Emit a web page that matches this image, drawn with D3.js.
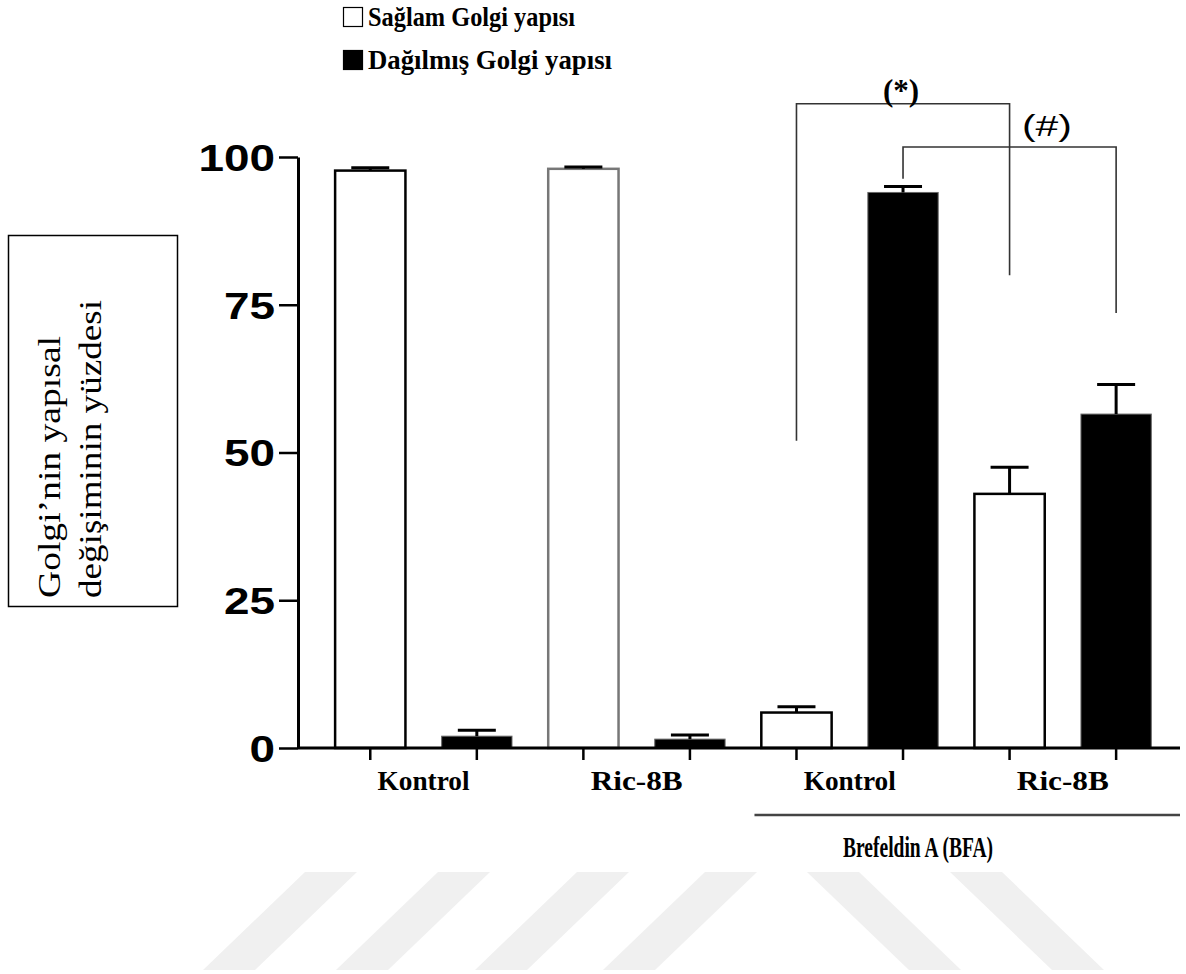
<!DOCTYPE html>
<html>
<head>
<meta charset="utf-8">
<script src="https://cdn.jsdelivr.net/npm/d3@7"></script>
<style>
  html, body { margin: 0; padding: 0; background: #fff; }
  svg { display: block; }
</style>
</head>
<body>
<script>
// ---------------- data ----------------
const groups = ["Kontrol", "Ric-8B", "Kontrol BFA", "Ric-8B BFA"];
const groupLabels = ["Kontrol", "Ric-8B", "Kontrol", "Ric-8B"];
const seriesKeys = ["saglam", "dagilmis"];
const seriesNames = ["Sağlam Golgi yapısı", "Dağılmış Golgi yapısı"];
const saglamValues = [97.7, 98.0, 6.0, 43.0];
const saglamErrors = [0.5, 0.3, 1.0, 4.5];
const dagilmisValues = [2.0, 1.5, 94.0, 56.5];
const dagilmisErrors = [1.0, 0.7, 1.0, 5.0];
const yTicks = [0, 25, 50, 75, 100];
const yTitleLines = ["Golgi’nin yapısal", "değişiminin yüzdesi"];
const bfaLabel = "Brefeldin A (BFA)";
// significance brackets: [group, series] pairs and heights in data units
const bracketLabels = ["(*)", "(#)"];
const bracketFrom = [["Kontrol BFA", "saglam"], ["Kontrol BFA", "dagilmis"]];
const bracketTo = [["Ric-8B BFA", "saglam"], ["Ric-8B BFA", "dagilmis"]];
const bracketTop = [109, 101.7];
const bracketFromEnd = [52, 96.3];
const bracketToEnd = [80, 73.6];
// watermark stripes (top-left x of each stripe; direction)
const stripeTopX = [305, 438, 577, 705, 807, 950];
const stripeDir = [-1, -1, -1, -1, 1, 1];

// ---------------- layout ----------------
const W = 1186, H = 974;
const svg = d3.select("body").append("svg").attr("width", W).attr("height", H);

const y = d3.scaleLinear().domain([0, 100]).range([748, 157]);
const axisX = 298;

const barKeys = [];
groups.forEach(g => seriesKeys.forEach(s => barKeys.push(g + "|" + s)));
const x = d3.scaleBand().domain(barKeys).range([317, 1169.4]).paddingInner(0.34).paddingOuter(0.17);
const cx = (g, s) => x(g + "|" + s) + x.bandwidth() / 2;

const bars = [];
groups.forEach((g, i) => {
  bars.push({ g, s: "saglam", v: saglamValues[i], e: saglamErrors[i], i });
  bars.push({ g, s: "dagilmis", v: dagilmisValues[i], e: dagilmisErrors[i], i });
});

// ---------------- watermark ----------------
const wmTop = 872, wmBot = 970, wmW = 52, wmShift = 102;
svg.append("g").selectAll("path").data(stripeTopX).join("path")
  .attr("d", (d, i) => {
    const dx = stripeDir[i] * wmShift;
    return `M${d},${wmTop}L${d + wmW},${wmTop}L${d + wmW + dx},${wmBot}L${d + dx},${wmBot}Z`;
  })
  .attr("fill", "#f0f0f0");

// ---------------- bars ----------------
svg.append("g").selectAll("rect").data(bars).join("rect")
  .attr("x", d => x(d.g + "|" + d.s))
  .attr("width", x.bandwidth())
  .attr("y", d => y(d.v))
  .attr("height", d => y(0) - y(d.v))
  .attr("fill", d => d.s === "saglam" ? "#fff" : "#000")
  .attr("stroke", d => d.s === "saglam" ? (d.i === 1 ? "#777" : "#000") : "#666")
  .attr("stroke-width", d => d.s === "saglam" ? 2.5 : 1);

// error bars (upper only)
const eb = svg.append("g").attr("stroke", "#000").attr("stroke-width", 3);
eb.selectAll("line.v").data(bars).join("line").attr("class", "v")
  .attr("x1", d => cx(d.g, d.s)).attr("x2", d => cx(d.g, d.s))
  .attr("y1", d => y(d.v)).attr("y2", d => y(d.v + d.e));
eb.selectAll("line.c").data(bars).join("line").attr("class", "c")
  .attr("x1", d => cx(d.g, d.s) - 19).attr("x2", d => cx(d.g, d.s) + 19)
  .attr("y1", d => y(d.v + d.e)).attr("y2", d => y(d.v + d.e));

// ---------------- axes ----------------
const yAxis = svg.append("g").attr("transform", `translate(${axisX},0)`)
  .call(d3.axisLeft(y).tickValues(yTicks).tickSize(19).tickSizeOuter(0).tickPadding(4));
yAxis.select(".domain").attr("stroke-width", 3);
yAxis.selectAll(".tick line").attr("stroke-width", 2.5);
yAxis.selectAll(".tick text")
  .attr("font-family", "'Liberation Sans', Arial, sans-serif")
  .attr("font-weight", "bold")
  .attr("font-size", 37)
  .attr("dy", "0.36em")
  .attr("fill", "#000")
  .attr("textLength", d => String(d).length * 25.5)
  .attr("lengthAdjust", "spacingAndGlyphs");

const xAxis = svg.append("g").attr("transform", `translate(0,${y(0)})`)
  .call(d3.axisBottom(x).tickSize(12).tickSizeOuter(0).tickFormat(""));
xAxis.select(".domain").remove();
xAxis.selectAll(".tick line").attr("stroke-width", 2.5);
svg.append("line")
  .attr("x1", axisX).attr("x2", W - 6)
  .attr("y1", y(0)).attr("y2", y(0))
  .attr("stroke", "#000").attr("stroke-width", 3);

// group labels
svg.append("g").selectAll("text").data(groups).join("text")
  .attr("x", g => (cx(g, "saglam") + cx(g, "dagilmis")) / 2)
  .attr("y", 790)
  .attr("text-anchor", "middle")
  .attr("font-family", "'Liberation Serif', 'Times New Roman', serif")
  .attr("font-weight", "bold")
  .attr("font-size", 28)
  .attr("textLength", 92).attr("lengthAdjust", "spacingAndGlyphs")
  .text((g, i) => groupLabels[i]);

// BFA line and label
const bfaX1 = cx("Kontrol BFA", "saglam") - 42;
svg.append("line")
  .attr("x1", bfaX1).attr("x2", W - 6)
  .attr("y1", 815).attr("y2", 815)
  .attr("stroke", "#444").attr("stroke-width", 2.5);
svg.append("text")
  .attr("x", 918).attr("y", 857)
  .attr("text-anchor", "middle")
  .attr("font-family", "'Liberation Serif', 'Times New Roman', serif")
  .attr("font-weight", "bold")
  .attr("font-size", 29)
  .attr("textLength", 150).attr("lengthAdjust", "spacingAndGlyphs")
  .text(bfaLabel);

// ---------------- significance brackets ----------------
const br = svg.append("g").attr("fill", "none").attr("stroke", "#333").attr("stroke-width", 1.6);
bracketLabels.forEach((lab, i) => {
  const x1 = cx(bracketFrom[i][0], bracketFrom[i][1]);
  const x2 = cx(bracketTo[i][0], bracketTo[i][1]);
  br.append("path").attr("d",
    `M${x1},${y(bracketFromEnd[i])}V${y(bracketTop[i])}H${x2}V${y(bracketToEnd[i])}`);
});
svg.append("text")
  .attr("x", 901)
  .attr("y", y(bracketTop[0]) - 3)
  .attr("text-anchor", "middle")
  .attr("font-family", "'Liberation Serif', 'Times New Roman', serif")
  .attr("font-weight", "bold")
  .attr("font-size", 31)
  .text(bracketLabels[0]);
svg.append("text")
  .attr("x", 1047)
  .attr("y", y(bracketTop[1]) - 11)
  .attr("text-anchor", "middle")
  .attr("font-family", "'Liberation Sans', Arial, sans-serif")
  .attr("font-size", 30)
  .attr("textLength", 50).attr("lengthAdjust", "spacingAndGlyphs")
  .text(bracketLabels[1]);

// ---------------- legend ----------------
const leg = svg.append("g");
const legLen = [207, 244];
seriesNames.forEach((name, i) => {
  const ly = i === 0 ? 7 : 50;
  leg.append("rect").attr("x", 343.5).attr("y", ly + 0.5).attr("width", 19).attr("height", 19)
    .attr("fill", i === 0 ? "#fff" : "#000").attr("stroke", "#000").attr("stroke-width", 1.2);
  leg.append("text").attr("x", 368).attr("y", ly + 19)
    .attr("font-family", "'Liberation Serif', 'Times New Roman', serif")
    .attr("font-weight", "bold").attr("font-size", 27)
    .attr("textLength", legLen[i]).attr("lengthAdjust", "spacingAndGlyphs")
    .text(name);
});

// ---------------- y title box ----------------
svg.append("rect").attr("x", 8.5).attr("y", 235.5).attr("width", 169).attr("height", 371)
  .attr("fill", "#fff").attr("stroke", "#000").attr("stroke-width", 1.5);
const titleBase = [60, 101];
const titleLen = [262, 298];
yTitleLines.forEach((t, i) => {
  svg.append("text")
    .attr("transform", `translate(${titleBase[i]},${598}) rotate(-90)`)
    .attr("font-family", "'Liberation Serif', 'Times New Roman', serif")
    .attr("font-size", 32)
    .attr("textLength", titleLen[i]).attr("lengthAdjust", "spacingAndGlyphs")
    .text(t);
});
</script>
</body>
</html>
